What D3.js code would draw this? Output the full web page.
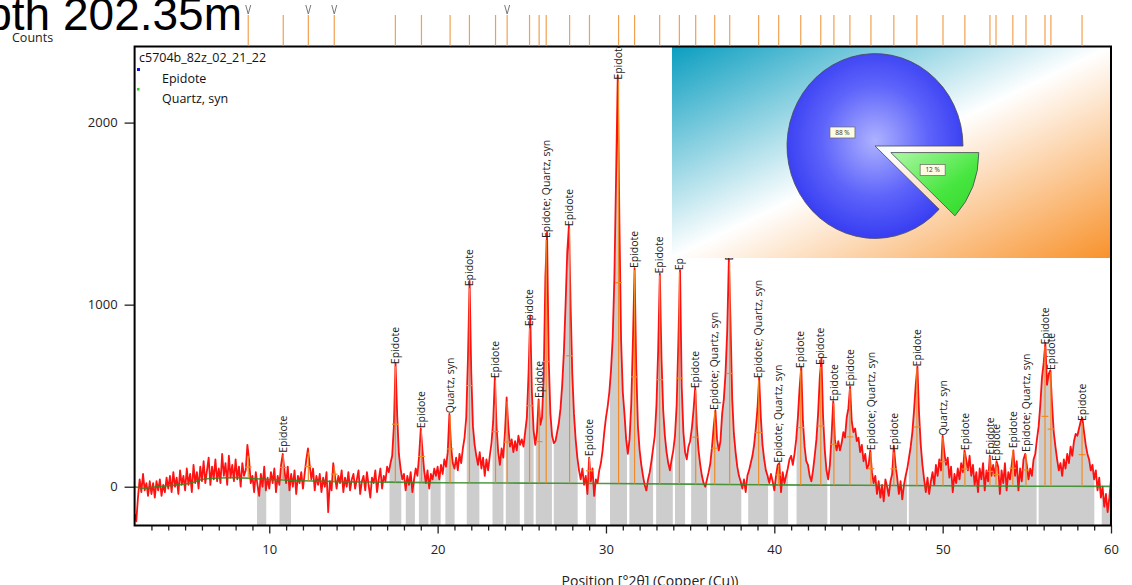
<!DOCTYPE html>
<html><head><meta charset="utf-8">
<script src="https://cdn.jsdelivr.net/npm/d3@7"></script>
<style>body{margin:0;background:#fff;overflow:hidden} svg{display:block}</style>
</head><body>
<svg id="c" width="1132" height="585"></svg>
<script>
// ---- data ----
const startAngle = 2.0, stepAngle = 0.1;
const counts = [
-150,-190,-60,40,-30,70,-20,20,-50,30,
-40,20,-60,30,-20,40,-50,10,-30,50,
-10,60,-30,80,0,50,-40,90,10,60,
-20,100,10,70,-30,120,20,80,-10,110,
30,140,20,90,160,10,110,40,150,30,
100,20,180,60,130,10,170,50,120,30,
150,40,110,0,130,60,90,230,150,20,
60,-30,80,10,-50,70,0,110,-20,50,
-10,80,20,100,-30,60,10,120,180,90,
20,110,-20,70,0,90,-40,60,20,80,
-10,70,150,210,120,40,100,-20,60,10,
70,-30,50,0,80,-140,30,-20,130,60,
-10,60,20,90,-30,50,0,80,-20,40,
70,-10,40,90,-40,30,60,-20,80,10,
-60,50,20,90,-30,40,100,-10,60,30,
110,80,130,170,330,680,390,180,100,40,
70,-20,60,10,80,-30,40,100,60,170,
320,200,90,20,90,-10,70,40,100,60,
110,40,120,70,150,110,190,400,220,130,
100,160,90,180,130,210,270,380,700,1130,
620,330,230,170,120,190,100,160,60,150,
90,170,240,360,600,330,190,120,210,160,
300,490,330,220,260,190,250,200,280,230,
260,220,300,380,620,940,520,310,230,300,
480,340,380,600,1150,1400,700,400,280,240,
250,300,350,430,560,740,1000,1290,1435,1000,
620,400,260,160,90,40,100,10,60,-40,
160,30,100,-50,40,20,90,130,200,300,
380,440,520,640,820,1150,1700,2260,1450,800,
520,400,260,180,260,450,800,1200,650,330,
200,120,60,10,-20,40,80,140,210,280,
450,750,1170,700,420,280,190,130,90,150,
200,280,450,800,1190,550,300,190,150,220,
250,320,420,545,330,200,120,60,20,0,
40,80,130,220,330,420,260,200,250,400,
480,620,850,1250,900,480,290,190,110,60,
30,-10,40,-30,60,90,130,170,230,320,
430,600,380,230,150,90,60,20,70,30,
-20,60,120,130,-30,80,20,60,100,150,
170,120,180,260,380,540,660,360,220,140,
120,60,30,90,170,260,400,600,707,380,
200,90,40,120,280,470,260,200,250,200,
240,300,270,380,430,550,360,300,320,250,
270,190,230,140,180,100,120,200,80,20,
60,-40,30,-60,10,-80,40,0,-50,30,
70,225,120,50,-40,30,-70,10,60,100,
160,220,300,420,560,660,400,230,120,40,
-30,50,-40,30,80,10,120,60,150,90,
280,190,120,160,50,110,-30,70,20,100,
40,130,80,200,150,90,170,60,120,10,
80,-30,100,40,130,-20,90,30,170,60,
120,60,140,110,-40,90,20,130,-20,80,
40,120,200,60,140,-20,100,30,150,180,
120,40,100,60,150,180,260,330,450,600,
680,790,560,620,640,450,300,220,150,90,
130,60,150,100,180,130,220,170,250,290,
280,320,360,378,300,230,180,150,90,120,
40,90,-20,50,-60,0,-110,-40,-140,-60,
40];

const backgroundAngles = [2,2.5,3,4,5,5.5,6,7,8,9,10,12,14,17,20,25,30,35,40,45,50,55,60];
const backgroundCounts = [0,-8,-3,5,15,25,40,48,50,45,40,33,28,25,22,20,18,14,10,8,5,3,2];

const peakPositions = [8.75,10.83,12.32,13.86,17.49,19.04,20.74,21.89,23.44,24.13,25.46,26.03,26.45,27.84,29.02,30.75,31.70,33.19,34.36,35.33,36.46,37.35,39.07,40.26,41.57,42.76,43.54,44.49,45.74,47.10,48.47,50.02,51.32,52.81,53.17,54.17,54.95,56.08,56.43,58.28];
const peakHeights = [170,175,190,110,662,310,393,1090,585,470,870,476,1355,1420,157,2225,1190,1160,1178,530,410,1232,585,120,640,658,458,540,190,190,650,270,190,165,130,200,180,770,630,350];
const E = "Epidote", Q = "Quartz, syn", EQ = "Epidote; Quartz, syn";
const peakLabels = ["",E,"","",E,E,Q,E,E,"",E,E,EQ,E,E,E,E,E,E,E,EQ,E,EQ,EQ,E,E,E,E,EQ,E,E,Q,E,E,E,E,EQ,E,E,E];
const unmatchedPeaks = [8.75,12.32,13.86,24.13];

const grayStarts = [9.27,10.61,17.14,18.11,18.89,19.58,20.46,21.73,23.26,24.05,25.14,25.83,26.90,28.81,30.24,31.39,32.98,34.10,35.06,36.19,38.45,39.96,41.32,43.31,47.99,55.70,59.45];
const grayEnds   = [9.82,11.29,17.84,18.65,19.45,20.18,21.01,22.48,23.91,24.88,25.70,26.79,28.32,29.40,31.25,32.80,33.97,34.70,36.01,38.04,39.63,40.82,43.15,47.88,55.58,59.01,59.96];

const xMajorTicks = [10,20,30,40,50,60];
const yTicks = [0,1000,2000];
const sampleName = "c5704b_82z_02_21_22";
const phaseNames = ["Epidote","Quartz, syn"];
const phaseShares = [88,12];

// ---- drawing ----
const svg = d3.select("#c");
const L = 134.6, R = 1111, T = 46.5, B = 525.5;
const x = d3.scaleLinear([2,60],[L,R]);
const y = d3.scaleLinear([-213,2418],[B,T]);
const bgScale = d3.scaleLinear(backgroundAngles, backgroundCounts);
const obs = counts.map((v,i)=>({a: startAngle + i*stepAngle, v}));

const defs = svg.append("defs");
defs.append("clipPath").attr("id","plotClip").append("rect")
  .attr("x",L).attr("y",T).attr("width",R-L).attr("height",B-T);
const gc = defs.append("clipPath").attr("id","grayClip");
grayStarts.forEach((s,i)=>{
  gc.append("rect").attr("x",x(s)).attr("y",T).attr("width",x(grayEnds[i])-x(s)).attr("height",B-T);
});

// title & axis captions
svg.append("text").attr("x",242).attr("y",30).attr("text-anchor","end")
  .style("font-family","'Liberation Sans',Arial,sans-serif").style("font-size","46px").text("Depth 202.35m");
svg.append("text").attr("x",12).attr("y",42)
  .style("font-family","'Open Sans',sans-serif").style("font-size","12.5px").attr("fill","#222").text("Counts");

const plot = svg.append("g").attr("clip-path","url(#plotClip)");

// gray peak areas
plot.append("path").datum(obs).attr("clip-path","url(#grayClip)")
  .attr("fill","#cdcdcd")
  .attr("d", d3.area().x(d=>x(d.a)).y0(B).y1(d=>y(d.v)));

// observed profile
plot.append("path").datum(obs).attr("fill","none").attr("stroke","#ff0000")
  .attr("stroke-width",1.8).attr("stroke-linejoin","round").attr("opacity",0.93)
  .attr("d", d3.line().x(d=>x(d.a)).y(d=>y(d.v)));

// background line
plot.append("path").datum(backgroundAngles.map((a,i)=>({a, v: backgroundCounts[i]})))
  .attr("fill","none").attr("stroke","#2f8a22").attr("stroke-width",1.6).attr("opacity",0.85)
  .attr("d", d3.line().x(d=>x(d.a)).y(d=>y(d.v)).curve(d3.curveMonotoneX));

// peak sticks
const pk = peakPositions.map((p,i)=>({p, h: peakHeights[i], lab: peakLabels[i], b: bgScale(p)}));
const sticks = plot.append("g").attr("stroke","#f28a25").attr("stroke-width",1.2);
pk.forEach(d=>{
  sticks.append("line").attr("x1",x(d.p)).attr("x2",x(d.p)).attr("y1",y(d.b)).attr("y2",y(d.h));
  const hy = y((d.b+d.h)/2);
  sticks.append("line").attr("x1",x(d.p-0.2)).attr("x2",x(d.p+0.2)).attr("y1",hy).attr("y2",hy);
});

// peak labels
plot.append("g").selectAll("text").data(pk.filter(d=>d.lab)).join("text")
  .attr("transform",d=>`translate(${x(d.p)},${y(d.h)-2}) rotate(-90)`)
  .attr("dy","0.35em").attr("text-anchor","start")
  .style("font-family","'Open Sans',sans-serif").style("font-size","10.5px").attr("fill","#222")
  .text(d=>d.lab);

// legend
const lg = svg.append("g").style("font-family","'Open Sans',sans-serif").style("font-size","12.5px").attr("fill","#111");
lg.append("text").attr("x",139).attr("y",62).text(sampleName);
lg.append("rect").attr("x",137).attr("y",68).attr("width",3).attr("height",3).attr("fill","#1010e0");
lg.append("text").attr("x",162).attr("y",83).text(phaseNames[0]);
lg.append("rect").attr("x",137).attr("y",88).attr("width",2.5).attr("height",2.5).attr("fill","#30d030");
lg.append("text").attr("x",162).attr("y",103).text(phaseNames[1]);

// axes
const axFont = g=>g.selectAll("text").style("font-family","'Open Sans',sans-serif").style("font-size","13px").attr("fill","#222");
svg.append("g").attr("transform",`translate(0,${B})`)
  .call(d3.axisBottom(x).tickValues(d3.range(3,60).filter(v=>v%10)).tickSize(5).tickFormat(""))
  .call(g=>g.select(".domain").remove())
  .call(g=>g.selectAll("line").attr("stroke","#222").attr("stroke-width",1.3));
svg.append("g").attr("transform",`translate(0,${B})`)
  .call(d3.axisBottom(x).tickValues(xMajorTicks).tickSize(8).tickPadding(11).tickFormat(d3.format("d")))
  .call(g=>g.select(".domain").remove())
  .call(g=>g.selectAll("line").attr("stroke","#222").attr("stroke-width",1.3))
  .call(axFont);
svg.append("g").attr("transform",`translate(${L},0)`)
  .call(d3.axisLeft(y).tickValues(yTicks).tickSize(10).tickPadding(7).tickFormat(d3.format("d")))
  .call(g=>g.select(".domain").remove())
  .call(g=>g.selectAll("line").attr("stroke","#222").attr("stroke-width",1.3))
  .call(axFont);
svg.append("text").attr("x",650).attr("y",586).attr("text-anchor","middle")
  .style("font-family","'Open Sans',sans-serif").style("font-size","14px").attr("fill","#222")
  .text("Position [°2θ] (Copper (Cu))");

// inset pie
const bgGrad = defs.append("linearGradient").attr("id","insetBg").attr("x1",0).attr("y1",0).attr("x2",1).attr("y2",1);
bgGrad.append("stop").attr("offset",0).attr("stop-color","#0b9ec0");
bgGrad.append("stop").attr("offset",0.5).attr("stop-color","#ffffff");
bgGrad.append("stop").attr("offset",1).attr("stop-color","#f8922c");
const blueGrad = defs.append("radialGradient").attr("id","blueG").attr("gradientUnits","userSpaceOnUse")
  .attr("cx",0).attr("cy",-5).attr("r",90);
blueGrad.append("stop").attr("offset",0).attr("stop-color","#aeb2ff");
blueGrad.append("stop").attr("offset",0.6).attr("stop-color","#5d63fa");
blueGrad.append("stop").attr("offset",1).attr("stop-color","#3a40f2");
const greenGrad = defs.append("linearGradient").attr("id","greenG").attr("x1",0).attr("y1",0).attr("x2",1).attr("y2",1);
greenGrad.append("stop").attr("offset",0).attr("stop-color","#b0f8a8");
greenGrad.append("stop").attr("offset",0.6).attr("stop-color","#48e640");
greenGrad.append("stop").attr("offset",1).attr("stop-color","#32d82c");

const ix0 = 672, iy0 = 47, ix1 = 1110, iy1 = 258;
svg.append("rect").attr("x",ix0).attr("y",iy0).attr("width",ix1-ix0).attr("height",iy1-iy0).attr("fill","url(#insetBg)");

const pieData = d3.pie().sort(null).startAngle(Math.PI/2 + Math.PI*2*phaseShares[1]/100)
  .endAngle(Math.PI/2 + Math.PI*2*phaseShares[1]/100 + Math.PI*2)(phaseShares);
const arc = d3.arc().innerRadius(0).outerRadius(88);
const pg = svg.append("g").attr("transform","translate(875,146) scale(1,1.05)");
const fills = ["url(#blueG)","url(#greenG)"];
const explode = [0,17];
const labR = [35,45];
pieData.forEach((d,i)=>{
  const m = (d.startAngle+d.endAngle)/2;
  const dx = Math.sin(m)*explode[i], dy = -Math.cos(m)*explode[i];
  pg.append("path").attr("d",arc(d)).attr("transform",`translate(${dx},${dy})`)
    .attr("fill",fills[i]).attr("stroke","#4a4a5a").attr("stroke-width",0.8);
  const lx = Math.sin(m)*(labR[i]+explode[i]), ly = -Math.cos(m)*(labR[i]+explode[i]);
  const lgp = pg.append("g").attr("transform",`translate(${lx},${ly}) scale(1,${1/1.05})`);
  lgp.append("rect").attr("x",-12.5).attr("y",-5.5).attr("width",25).attr("height",11)
    .attr("fill","#fdfbe2").attr("stroke","#666").attr("stroke-width",0.7);
  lgp.append("text").attr("text-anchor","middle").attr("dy","0.35em")
    .style("font-family","'Open Sans',sans-serif").style("font-size","6.5px").attr("fill","#333")
    .text(d.data + " %");
});

// frame
svg.append("rect").attr("x",L).attr("y",T).attr("width",R-L).attr("height",B-T)
  .attr("fill","none").attr("stroke","#000").attr("stroke-width",2);

// reference marks on top
const refMarks = svg.append("g");
pk.forEach(d=>{
  refMarks.append("line").attr("x1",x(d.p)).attr("x2",x(d.p)).attr("y1",15).attr("y2",T-1)
    .attr("stroke","#f2a050").attr("stroke-width",1.2);
});
unmatchedPeaks.forEach(p=>{
  const cx = x(p);
  refMarks.append("path").attr("d",`M${cx-2.5},5L${cx},14L${cx+2.5},5`)
    .attr("fill","none").attr("stroke","#777").attr("stroke-width",1);
});
</script>
</body></html>
